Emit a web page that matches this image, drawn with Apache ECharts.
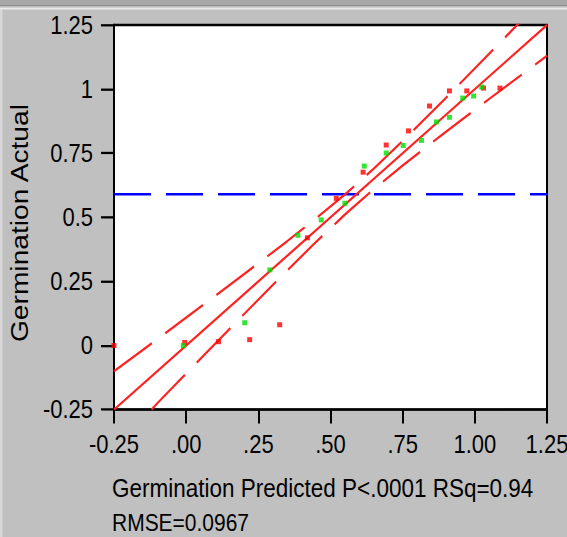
<!DOCTYPE html>
<html><head><meta charset="utf-8">
<script src="https://cdn.jsdelivr.net/npm/echarts@6/dist/echarts.min.js"></script>
<style>
html,body{margin:0;padding:0;background:#c0c0c0;overflow:hidden;}
#wrap{width:567px;height:537px;overflow:hidden;position:relative;}
#main{width:567px;height:466.96px;transform:scaleY(1.15);transform-origin:0 0;}
</style></head><body><div id="wrap"><div id="main"></div></div>
<script>
// vertical stretch of the original screenshot
const K = 1.15;

const xTickLabels = ['-0.25', '.00', '.25', '.50', '.75', '1.00', '1.25'];
const yTickLabels = ['-0.25', '0', '0.25', '0.5', '0.75', '1', '1.25'];
const axisMin = -0.25, axisMax = 1.25, axisStep = 0.25;

const redPredicted = [-0.25, -0.005, 0.112, 0.22, 0.324, 0.42, 0.52, 0.613, 0.693, 0.77, 0.843, 0.912, 0.972, 1.03, 1.087];
const redActual    = [0.0, 0.012, 0.015, 0.023, 0.081, 0.42, 0.574, 0.676, 0.782, 0.837, 0.934, 0.993, 0.993, 1.004, 1.004];
const greenPredicted = [-0.01, 0.203, 0.29, 0.387, 0.468, 0.55, 0.617, 0.693, 0.752, 0.815, 0.867, 0.912, 0.958, 0.996, 1.024];
const greenActual    = [0.0, 0.089, 0.295, 0.43, 0.49, 0.555, 0.70, 0.751, 0.78, 0.80, 0.872, 0.89, 0.965, 0.973, 1.008];

const fitX = [-0.25, 1.25];
const fitY = [-0.25, 1.25];
const upperX = [-0.25, -0.1, 0.05, 0.2, 0.35, 0.45, 0.55, 0.65, 0.75, 0.9, 1.05, 1.25];
const upperY = [-0.10, 0.025, 0.151, 0.278, 0.407, 0.496, 0.589, 0.690, 0.798, 0.966, 1.138, 1.37];
const lowerX = [-0.12, -0.1, 0.05, 0.2, 0.35, 0.45, 0.55, 0.65, 0.75, 0.9, 1.05, 1.25];
const lowerY = [-0.25, -0.225, -0.051, 0.122, 0.293, 0.404, 0.511, 0.610, 0.702, 0.834, 0.962, 1.13];
const meanActual = 0.59;

const xTitleLines = ['Germination Predicted P<.0001 RSq=0.94', 'RMSE=0.0967'];
const yTitle = 'Germination Actual';

const FONT = "'Liberation Sans', Arial, sans-serif";
const zip = (a, b) => a.map((v, i) => [v, b[i]]);
const tickIndex = v => Math.round((v - axisMin) / axisStep);

const chart = echarts.init(document.getElementById('main'), null, {renderer: 'svg'});
chart.setOption({
  backgroundColor: '#c0c0c0',
  animation: false,
  title: [
    {text: xTitleLines[0], left: 112, top: 414.5, padding: 0,
     textStyle: {fontFamily: FONT, fontSize: 22.5, fontWeight: 'normal', color: '#000', lineHeight: 20}},
    {text: xTitleLines[1], left: 112, top: 445, padding: 0,
     textStyle: {fontFamily: FONT, fontSize: 21, fontWeight: 'normal', color: '#000', lineHeight: 19}}
  ],
  grid: {
    left: 114, right: 20, top: 25 / K, bottom: (537 - 409.6) / K,
    show: true, backgroundColor: '#fff', borderColor: '#000', borderWidth: 2,
    containLabel: false, outerBoundsMode: 'none'
  },
  xAxis: {
    type: 'value', min: axisMin, max: axisMax, interval: axisStep,
    splitLine: {show: false},
    axisLine: {show: true, onZero: false, lineStyle: {color: '#000', width: 2}},
    axisTick: {show: true, length: 12, lineStyle: {color: '#000', width: 2}},
    axisLabel: {
      margin: 19, color: '#000', fontFamily: FONT, fontSize: 22,
      showMinLabel: true, showMaxLabel: true,
      formatter: v => xTickLabels[tickIndex(v)]
    }
  },
  yAxis: {
    type: 'value', min: axisMin, max: axisMax, interval: axisStep,
    name: yTitle, nameLocation: 'middle', nameGap: 66,
    nameTextStyle: {fontFamily: FONT, fontSize: 24.5, color: '#000', padding: [0, 10, 0, 0]},
    splitLine: {show: false},
    axisLine: {show: true, onZero: false, lineStyle: {color: '#000', width: 2}},
    axisTick: {show: true, length: 13, lineStyle: {color: '#000', width: 2}},
    axisLabel: {
      margin: 21, color: '#000', fontFamily: FONT, fontSize: 22,
      showMinLabel: true, showMaxLabel: true,
      formatter: v => yTickLabels[tickIndex(v)]
    }
  },
  graphic: [
    {type: 'rect', silent: true, shape: {x: 0, y: 0, width: 567, height: 5 / K}, style: {fill: '#a8a8a8'}},
    {type: 'rect', silent: true, shape: {x: 0, y: 5 / K, width: 567, height: 1.5 / K}, style: {fill: '#8e8e8e'}},
    {type: 'rect', silent: true, shape: {x: 0, y: 6.5 / K, width: 567, height: 1.5 / K}, style: {fill: '#cfcfcf'}},
    {type: 'rect', silent: true, shape: {x: 0, y: 8 / K, width: 567, height: 1.5 / K}, style: {fill: '#ececec'}},
    {type: 'rect', silent: true, shape: {x: 0, y: 9.5 / K, width: 2.5, height: (537 - 9.5) / K}, style: {fill: '#d8d8d8'}}
  ],
  series: [
    {
      type: 'line', name: 'Mean', data: zip(fitX, [meanActual, meanActual]), symbol: 'none',
      lineStyle: {color: '#0000ff', width: 2, type: [37, 15]}, z: 2
    },
    {
      type: 'line', name: 'Fit', data: zip(fitX, fitY), symbol: 'none',
      lineStyle: {color: '#ff2020', width: 2}, z: 3
    },
    {
      type: 'line', name: 'Upper', data: zip(upperX, upperY), symbol: 'none',
      lineStyle: {color: '#ff2020', width: 2, type: [45, 16]}, z: 3
    },
    {
      type: 'line', name: 'Lower', data: zip(lowerX, lowerY), symbol: 'none',
      lineStyle: {color: '#ff2020', width: 2, type: [45, 16]}, z: 3
    },
    {
      type: 'scatter', name: 'Red', data: zip(redPredicted, redActual), symbol: 'rect',
      symbolSize: [5, 5 / K], itemStyle: {color: '#ff0000'}, z: 4
    },
    {
      type: 'scatter', name: 'Green', data: zip(greenPredicted, greenActual), symbol: 'rect',
      symbolSize: [5, 5 / K], itemStyle: {color: '#00dd00'}, z: 4
    }
  ]
});
</script></body></html>
